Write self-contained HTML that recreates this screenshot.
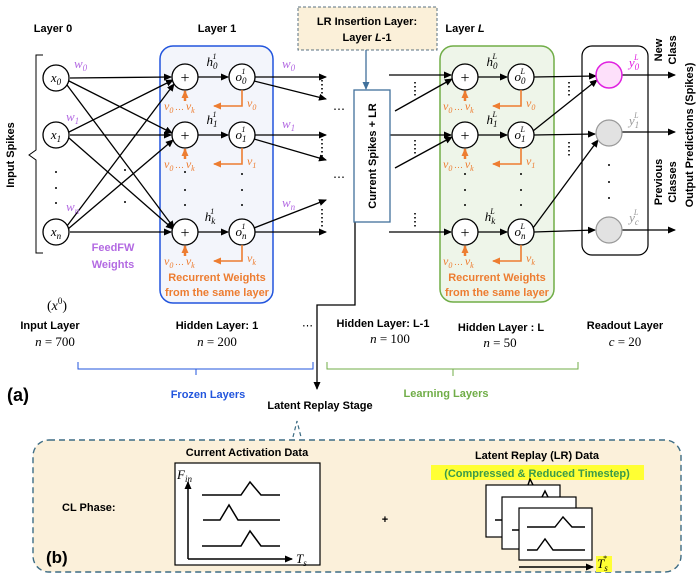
<!DOCTYPE html>
<html><head><meta charset="utf-8"><style>
body{margin:0;background:#fff}
svg{display:block}
.b{font-family:"Liberation Sans",sans-serif;font-weight:bold;font-size:11px}
.m{font-family:"Liberation Serif",serif;font-style:italic}
.r{font-family:"Liberation Serif",serif}
</style></head><body>
<svg width="700" height="575" viewBox="0 0 700 575" xmlns="http://www.w3.org/2000/svg">
<defs>
<marker id="a" markerWidth="8" markerHeight="8" refX="7" refY="4" orient="auto" markerUnits="userSpaceOnUse"><path d="M0,0.5 L8,4 L0,7.5z" fill="#000"/></marker>
<marker id="ao" markerWidth="8" markerHeight="8" refX="7" refY="4" orient="auto" markerUnits="userSpaceOnUse"><path d="M0,0.5 L8,4 L0,7.5z" fill="#ed7d31"/></marker>
<marker id="ab" markerWidth="8" markerHeight="8" refX="7" refY="4" orient="auto" markerUnits="userSpaceOnUse"><path d="M0,0.5 L8,4 L0,7.5z" fill="#41719c"/></marker>
</defs>

<!-- Titles -->
<text class="b" x="53" y="32" text-anchor="middle">Layer 0</text>
<text class="b" x="217" y="32" text-anchor="middle">Layer 1</text>
<text class="b" x="465" y="32" text-anchor="middle">Layer <tspan font-style="italic">L</tspan></text>

<!-- LR insertion box -->
<rect x="298" y="7" width="139" height="43" fill="#fbf0d9" stroke="#5a7080" stroke-dasharray="3,2"/>
<text class="b" x="367" y="25" text-anchor="middle">LR Insertion Layer:</text>
<text class="b" x="367" y="41" text-anchor="middle">Layer <tspan font-style="italic">L</tspan>-1</text>
<line x1="366" y1="50" x2="366" y2="89" stroke="#41719c" stroke-width="1.3" marker-end="url(#ab)"/>

<!-- Input bracket -->
<path d="M43,55 H36 V150 L29,155 L36,160 V253 H43" fill="none" stroke="#000" stroke-width="1"/>
<text class="b" transform="translate(14,155) rotate(-90)" text-anchor="middle">Input Spikes</text>

<!-- Layer boxes -->
<rect x="160" y="46" width="113" height="257" rx="13" fill="#f3f5fb" stroke="#2255dd" stroke-width="1.5"/>
<rect x="440" y="46" width="114" height="256" rx="13" fill="#eef5e9" stroke="#70ad47" stroke-width="1.5"/>
<rect x="582" y="46" width="66" height="209" rx="10" fill="#fff" stroke="#000" stroke-width="1.2"/>

<!-- Input to layer1 connections -->
<g stroke="#000" stroke-width="1.3" fill="none">
<line x1="70" y1="78" x2="171" y2="77" marker-end="url(#a)"/>
<line x1="69" y1="81" x2="172" y2="133" marker-end="url(#a)"/>
<line x1="67" y1="85" x2="174" y2="228" marker-end="url(#a)"/>
<line x1="69" y1="132" x2="173" y2="80" marker-end="url(#a)"/>
<line x1="70" y1="135" x2="171" y2="135" marker-end="url(#a)"/>
<line x1="69" y1="138" x2="173" y2="229" marker-end="url(#a)"/>
<line x1="67" y1="226" x2="174" y2="84" marker-end="url(#a)"/>
<line x1="68" y1="229" x2="173" y2="140" marker-end="url(#a)"/>
<line x1="70" y1="232" x2="171" y2="232" marker-end="url(#a)"/>
<!-- plus -> o -->
<line x1="198" y1="77" x2="228" y2="77" marker-end="url(#a)"/>
<line x1="198" y1="135" x2="228" y2="135" marker-end="url(#a)"/>
<line x1="198" y1="232" x2="228" y2="232" marker-end="url(#a)"/>
<line x1="478" y1="77" x2="507" y2="77" marker-end="url(#a)"/>
<line x1="478" y1="135" x2="507" y2="135" marker-end="url(#a)"/>
<line x1="478" y1="232" x2="507" y2="232" marker-end="url(#a)"/>
<!-- layer1 outputs -->
<line x1="255" y1="77" x2="326" y2="77" marker-end="url(#a)"/>
<line x1="254" y1="81" x2="326" y2="99" marker-end="url(#a)"/>
<line x1="255" y1="135" x2="326" y2="135" marker-end="url(#a)"/>
<line x1="254" y1="139" x2="326" y2="160" marker-end="url(#a)"/>
<line x1="255" y1="232" x2="326" y2="232" marker-end="url(#a)"/>
<line x1="254" y1="228" x2="326" y2="200" marker-end="url(#a)"/>
<!-- into layer L -->
<line x1="389" y1="75" x2="451" y2="75" marker-end="url(#a)"/>
<line x1="395" y1="111" x2="452" y2="79" marker-end="url(#a)"/>
<line x1="389" y1="135" x2="451" y2="135" marker-end="url(#a)"/>
<line x1="395" y1="168" x2="452" y2="137" marker-end="url(#a)"/>
<line x1="389" y1="232" x2="451" y2="232" marker-end="url(#a)"/>
<!-- layer L to readout -->
<line x1="534" y1="77" x2="596" y2="76" marker-end="url(#a)"/>
<line x1="533" y1="131" x2="597" y2="80" marker-end="url(#a)"/>
<line x1="534" y1="135" x2="595" y2="134" marker-end="url(#a)"/>
<line x1="533" y1="228" x2="598" y2="140" marker-end="url(#a)"/>
<line x1="534" y1="232" x2="595" y2="230" marker-end="url(#a)"/>
<!-- readout outputs -->
<line x1="622" y1="75" x2="675" y2="75" marker-end="url(#a)"/>
<line x1="622" y1="132" x2="675" y2="132" marker-end="url(#a)"/>
<line x1="622" y1="230" x2="675" y2="230" marker-end="url(#a)"/>
<!-- current spikes line to latent replay -->
<path d="M355,222 V305 H317 V389" marker-end="url(#a)"/>
</g>

<!-- dotted verticals -->
<g stroke="#000" stroke-width="1.6" stroke-dasharray="1.5,2.5">
<line x1="322" y1="80" x2="322" y2="97"/><line x1="322" y1="139" x2="322" y2="158"/><line x1="322" y1="209" x2="322" y2="228"/>
<line x1="415" y1="82" x2="415" y2="96"/><line x1="415" y1="140" x2="415" y2="156"/><line x1="415" y1="213" x2="415" y2="229"/>
<line x1="569" y1="82" x2="569" y2="96"/><line x1="569" y1="142" x2="569" y2="158"/>
</g>
<g fill="#000">
<circle cx="56" cy="172" r="1"/><circle cx="56" cy="188" r="1"/><circle cx="56" cy="203" r="1"/>
<circle cx="125" cy="170" r="1"/><circle cx="125" cy="202" r="1"/>
<circle cx="185" cy="172" r="1"/><circle cx="185" cy="190" r="1"/><circle cx="185" cy="205" r="1"/>
<circle cx="242" cy="174" r="1"/><circle cx="242" cy="190" r="1"/><circle cx="242" cy="205" r="1"/>
<circle cx="465" cy="174" r="1"/><circle cx="465" cy="190" r="1"/><circle cx="465" cy="205" r="1"/>
<circle cx="521" cy="174" r="1"/><circle cx="521" cy="190" r="1"/><circle cx="521" cy="205" r="1"/>
<circle cx="609" cy="165" r="1"/><circle cx="609" cy="182" r="1"/><circle cx="609" cy="198" r="1"/>
</g>
<text x="333" y="113" font-size="12" font-family="Liberation Sans">⋯</text>
<text x="333" y="181" font-size="12" font-family="Liberation Sans">⋯</text>

<!-- Current spikes box -->
<rect x="354" y="90" width="36" height="132" fill="#fff" stroke="#41719c" stroke-width="1.3"/>
<text class="b" transform="translate(376,156) rotate(-90)" text-anchor="middle">Current Spikes + LR</text>

<!-- nodes -->
<g fill="#fff" stroke="#000" stroke-width="1.3">
<circle cx="56" cy="78" r="13"/><circle cx="56" cy="135" r="13"/><circle cx="56" cy="232" r="13"/>
<circle cx="185" cy="77" r="13"/><circle cx="185" cy="135" r="13"/><circle cx="185" cy="232" r="13"/>
<circle cx="242" cy="77" r="13"/><circle cx="242" cy="135" r="13"/><circle cx="242" cy="232" r="13"/>
<circle cx="465" cy="77" r="13"/><circle cx="465" cy="135" r="13"/><circle cx="465" cy="232" r="13"/>
<circle cx="521" cy="77" r="13"/><circle cx="521" cy="135" r="13"/><circle cx="521" cy="232" r="13"/>
</g>
<circle cx="609" cy="75" r="13" fill="#fde0fa" stroke="#e020e0" stroke-width="1.5"/>
<circle cx="609" cy="133" r="13" fill="#e2e2e2" stroke="#999" stroke-width="1.2"/>
<circle cx="609" cy="230" r="13" fill="#e2e2e2" stroke="#999" stroke-width="1.2"/>

<!-- node labels -->
<g class="m" font-size="13" text-anchor="middle">
<text x="56" y="82">x<tspan font-size="9" dy="3">0</tspan></text>
<text x="56" y="139">x<tspan font-size="9" dy="3">1</tspan></text>
<text x="56" y="236">x<tspan font-size="9" dy="3">n</tspan></text>
<text x="241" y="81">o<tspan font-size="9" dy="3">0</tspan><tspan font-size="8" dx="-5" dy="-10">1</tspan></text>
<text x="241" y="139">o<tspan font-size="9" dy="3">1</tspan><tspan font-size="8" dx="-5" dy="-10">1</tspan></text>
<text x="241" y="236">o<tspan font-size="9" dy="3">n</tspan><tspan font-size="8" dx="-5" dy="-10">1</tspan></text>
<text x="520" y="81">o<tspan font-size="9" dy="3">0</tspan><tspan font-size="8" dx="-5" dy="-10">L</tspan></text>
<text x="520" y="139">o<tspan font-size="9" dy="3">1</tspan><tspan font-size="8" dx="-5" dy="-10">L</tspan></text>
<text x="520" y="236">o<tspan font-size="9" dy="3">n</tspan><tspan font-size="8" dx="-5" dy="-10">L</tspan></text>
<text x="212" y="66">h<tspan font-size="9" dy="3">0</tspan><tspan font-size="8" dx="-5" dy="-10">1</tspan></text>
<text x="212" y="124">h<tspan font-size="9" dy="3">1</tspan><tspan font-size="8" dx="-5" dy="-10">1</tspan></text>
<text x="210" y="221">h<tspan font-size="9" dy="3">k</tspan><tspan font-size="8" dx="-5" dy="-10">1</tspan></text>
<text x="492" y="66">h<tspan font-size="9" dy="3">0</tspan><tspan font-size="8" dx="-5" dy="-10">L</tspan></text>
<text x="492" y="124">h<tspan font-size="9" dy="3">1</tspan><tspan font-size="8" dx="-5" dy="-10">L</tspan></text>
<text x="490" y="221">h<tspan font-size="9" dy="3">k</tspan><tspan font-size="8" dx="-5" dy="-10">L</tspan></text>
<text x="634" y="67" fill="#e020e0">y<tspan font-size="9" dy="3">0</tspan><tspan font-size="8" dx="-5" dy="-10">L</tspan></text>
<text x="634" y="125" fill="#999">y<tspan font-size="9" dy="3">1</tspan><tspan font-size="8" dx="-5" dy="-10">L</tspan></text>
<text x="634" y="222" fill="#999">y<tspan font-size="9" dy="3">c</tspan><tspan font-size="8" dx="-5" dy="-10">L</tspan></text>
</g>
<g class="r" font-size="16" text-anchor="middle">
<text x="185" y="83">+</text><text x="185" y="141">+</text><text x="185" y="238">+</text>
<text x="465" y="83">+</text><text x="465" y="141">+</text><text x="465" y="238">+</text>
</g>

<!-- weights -->
<g class="m" font-size="13" fill="#b36ae2">
<text x="74" y="68">w<tspan font-size="9" dy="3">0</tspan></text>
<text x="66" y="121">w<tspan font-size="9" dy="3">1</tspan></text>
<text x="66" y="211">w<tspan font-size="9" dy="3">n</tspan></text>
<text x="282" y="68">w<tspan font-size="9" dy="3">0</tspan></text>
<text x="282" y="128">w<tspan font-size="9" dy="3">1</tspan></text>
<text x="282" y="207">w<tspan font-size="9" dy="3">n</tspan></text>
</g>
<text class="b" x="113" y="251" text-anchor="middle" fill="#b36ae2">FeedFW</text>
<text class="b" x="113" y="268" text-anchor="middle" fill="#b36ae2">Weights</text>

<!-- recurrent orange -->
<g stroke="#ed7d31" stroke-width="1.6" fill="none">
<path d="M242,90 V106 H214" marker-end="url(#ao)"/><path d="M185,101 V91" stroke-width="2.5" marker-end="url(#ao)"/>
<path d="M242,148 V164 H214" marker-end="url(#ao)"/><path d="M185,159 V149" stroke-width="2.5" marker-end="url(#ao)"/>
<path d="M242,245 V261 H214" marker-end="url(#ao)"/><path d="M185,256 V246" stroke-width="2.5" marker-end="url(#ao)"/>
<path d="M521,90 V106 H493" marker-end="url(#ao)"/><path d="M465,101 V91" stroke-width="2.5" marker-end="url(#ao)"/>
<path d="M521,148 V164 H493" marker-end="url(#ao)"/><path d="M465,159 V149" stroke-width="2.5" marker-end="url(#ao)"/>
<path d="M521,245 V261 H493" marker-end="url(#ao)"/><path d="M465,256 V246" stroke-width="2.5" marker-end="url(#ao)"/>
</g>
<g class="m" font-size="12" fill="#ed7d31">
<text x="164" y="110">v<tspan font-size="8" dy="3">0</tspan><tspan dy="-3" font-size="9"> … </tspan>v<tspan font-size="8" dy="3">k</tspan></text>
<text x="247" y="107">v<tspan font-size="8" dy="3">0</tspan></text>
<text x="164" y="168">v<tspan font-size="8" dy="3">0</tspan><tspan dy="-3" font-size="9"> … </tspan>v<tspan font-size="8" dy="3">k</tspan></text>
<text x="247" y="165">v<tspan font-size="8" dy="3">1</tspan></text>
<text x="164" y="265">v<tspan font-size="8" dy="3">0</tspan><tspan dy="-3" font-size="9"> … </tspan>v<tspan font-size="8" dy="3">k</tspan></text>
<text x="247" y="262">v<tspan font-size="8" dy="3">k</tspan></text>
<text x="443" y="110">v<tspan font-size="8" dy="3">0</tspan><tspan dy="-3" font-size="9"> … </tspan>v<tspan font-size="8" dy="3">k</tspan></text>
<text x="526" y="107">v<tspan font-size="8" dy="3">0</tspan></text>
<text x="443" y="168">v<tspan font-size="8" dy="3">0</tspan><tspan dy="-3" font-size="9"> … </tspan>v<tspan font-size="8" dy="3">k</tspan></text>
<text x="526" y="165">v<tspan font-size="8" dy="3">1</tspan></text>
<text x="443" y="265">v<tspan font-size="8" dy="3">0</tspan><tspan dy="-3" font-size="9"> … </tspan>v<tspan font-size="8" dy="3">k</tspan></text>
<text x="526" y="262">v<tspan font-size="8" dy="3">k</tspan></text>
</g>
<g class="b" fill="#ed7d31" font-size="10.5" text-anchor="middle">
<text x="217" y="281">Recurrent Weights</text><text x="217" y="296">from the same layer</text>
<text x="497" y="281">Recurrent Weights</text><text x="497" y="296">from the same layer</text>
</g>

<!-- right side rotated labels -->
<text class="b" transform="translate(662,50) rotate(-90)" text-anchor="middle">New</text>
<text class="b" transform="translate(676,50) rotate(-90)" text-anchor="middle">Class</text>
<text class="b" transform="translate(662,182) rotate(-90)" text-anchor="middle">Previous</text>
<text class="b" transform="translate(676,182) rotate(-90)" text-anchor="middle">Classes</text>
<text class="b" transform="translate(693,135) rotate(-90)" text-anchor="middle">Output Predictions (Spikes)</text>

<!-- bottom layer labels -->
<text class="r" x="57" y="310" font-size="14" text-anchor="middle">(<tspan font-style="italic">x</tspan><tspan font-size="9" dy="-6">0</tspan><tspan dy="6">)</tspan></text>
<g class="b" text-anchor="middle">
<text x="50" y="329">Input Layer</text>
<text x="217" y="329">Hidden Layer: 1</text>
<text x="383" y="327">Hidden Layer: L-1</text>
<text x="501" y="331">Hidden Layer : L</text>
<text x="625" y="329">Readout Layer</text>
</g>
<text x="302" y="329" font-size="11" font-family="Liberation Sans">⋯</text>
<g class="r" font-size="13" text-anchor="middle">
<text x="55" y="346"><tspan font-style="italic">n</tspan> = 700</text>
<text x="217" y="346"><tspan font-style="italic">n</tspan> = 200</text>
<text x="390" y="343"><tspan font-style="italic">n</tspan> = 100</text>
<text x="500" y="347"><tspan font-style="italic">n</tspan> = 50</text>
<text x="625" y="346"><tspan font-style="italic">c</tspan> = 20</text>
</g>

<!-- brackets -->
<path d="M78,362 V369 H196 V375 M196,369 H313 V362" fill="none" stroke="#2255dd" stroke-width="1"/>
<path d="M327,362 V369 H453 V376 M453,369 H578 V362" fill="none" stroke="#70ad47" stroke-width="1"/>
<text class="b" x="208" y="398" text-anchor="middle" fill="#2255dd">Frozen Layers</text>
<text class="b" x="446" y="397" text-anchor="middle" fill="#70ad47">Learning Layers</text>
<text x="7" y="401" font-family="Liberation Sans" font-weight="bold" font-size="18">(a)</text>
<text class="b" x="320" y="409" text-anchor="middle">Latent Replay Stage</text>

<!-- part b -->
<path d="M293,437 L297,421 L301,437" fill="none" stroke="#3d6c84" stroke-width="1.2" stroke-dasharray="4,3"/>
<rect x="33" y="440" width="648" height="132" rx="16" fill="#fbf0da" stroke="#3d6c84" stroke-width="1.4" stroke-dasharray="6,4"/>
<text class="b" x="62" y="511">CL Phase:</text>
<text x="46" y="563" font-family="Liberation Sans" font-weight="bold" font-size="17">(b)</text>
<text class="b" x="247" y="456" text-anchor="middle">Current Activation Data</text>
<rect x="175" y="463" width="145" height="102" fill="#fff" stroke="#000" stroke-width="1.2"/>
<g stroke="#000" stroke-width="1.5" fill="none">
<line x1="188" y1="559" x2="188" y2="482" marker-end="url(#a)"/>
<line x1="188" y1="559" x2="292" y2="559" marker-end="url(#a)"/>
<path d="M202,495 H241 L250,482 L261,495 H280"/>
<path d="M203,520 H220 L229,505 L238,520 H280"/>
<path d="M202,546 H241 L250,531 L261,546 H280"/>
</g>
<text class="m" x="177" y="479" font-size="13">F<tspan font-size="9" dy="3">in</tspan></text>
<text class="m" x="296" y="563" font-size="13">T<tspan font-size="9" dy="3">s</tspan></text>
<text class="b" x="385" y="523" text-anchor="middle" font-size="14">+</text>
<text class="b" x="537" y="459" text-anchor="middle">Latent Replay (LR) Data</text>
<rect x="431" y="465" width="213" height="15" fill="#ffff33"/>
<text class="b" x="537" y="477" text-anchor="middle" fill="#3a9a4a">(Compressed &amp; Reduced Timestep)</text>
<g stroke="#000" stroke-width="1.2" fill="#fff">
<rect x="486" y="485" width="74" height="52"/>
<rect x="502" y="497" width="74" height="52"/>
<rect x="519" y="508" width="73" height="52"/>
</g>
<g stroke="#000" stroke-width="1.4" fill="none">
<path d="M495,520 H502 M528,485 L530,479 L533,485"/>
<path d="M512,530 H519 M542,497 L545,491 L548,497"/>
<path d="M527,527 H555 L563,517 L572,527 H585"/>
<path d="M527,550 H537 L545,539 L553,550 H585"/>
<line x1="519" y1="567" x2="593" y2="567" marker-end="url(#a)"/>
</g>
<rect x="596" y="556" width="16" height="16" fill="#ffff33"/>
<text class="m" x="597" y="568" font-size="13">T<tspan font-size="9" dy="3">s</tspan><tspan font-size="8" dx="-5" dy="-10">*</tspan></text>
</svg>
</body></html>
